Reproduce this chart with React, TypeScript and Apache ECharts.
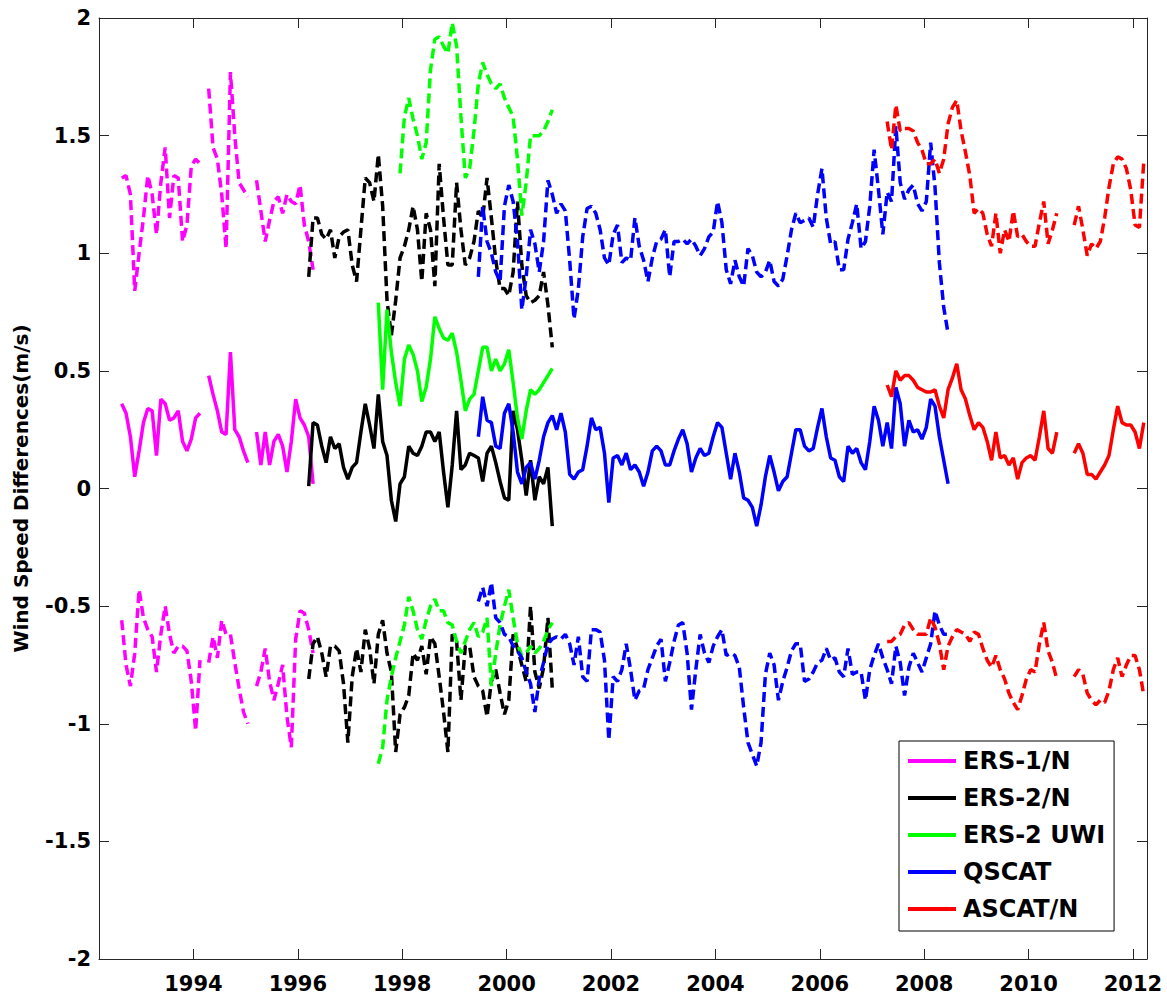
import React, { useEffect, useRef } from "react";
import * as echarts from "echarts";

const YEAR_TICKS = [1994, 1996, 1998, 2000, 2002, 2004, 2006, 2008, 2010, 2012];
const SATELLITES = ["ERS-1/N", "ERS-2/N", "ERS-2 UWI", "QSCAT", "ASCAT/N"];
const COLORS = ["#ff00ff", "#000000", "#00ff00", "#0000ff", "#ff0000"];
// first month (year, month) of each monthly record
const STARTS: [number, number][] = [[1992, 8], [1996, 3], [1997, 7], [1999, 6], [2007, 4]];

const ERS1_UP = [1.32, 1.33, 1.25, 0.84, 1.0, 1.15, 1.33, 1.25, 1.08, 1.3, 1.45, 1.15, 1.33, 1.32, 1.05, 1.12, 1.37, 1.4, 1.38, null, 1.7, 1.45, 1.4, 1.25, 1.02, 1.77, 1.5, 1.3, 1.27, 1.24, null, 1.31, 1.18, 1.05, 1.14, 1.22, 1.24, 1.17, 1.25, 1.22, 1.21, 1.29, 1.12, 1.05, 0.93];
const ERS1_MID = [0.36, 0.32, 0.22, 0.05, 0.16, 0.28, 0.34, 0.33, 0.14, 0.38, 0.36, 0.29, 0.3, 0.33, 0.2, 0.16, 0.21, 0.3, 0.32, null, 0.48, 0.4, 0.33, 0.24, 0.23, 0.58, 0.25, 0.22, 0.16, 0.11, null, 0.24, 0.1, 0.24, 0.1, 0.2, 0.23, 0.18, 0.07, 0.2, 0.38, 0.3, 0.27, 0.22, 0.02];
const ERS1_LOW = [-0.56, -0.75, -0.84, -0.7, -0.43, -0.55, -0.6, -0.63, -0.78, -0.62, -0.5, -0.62, -0.7, -0.67, -0.67, -0.69, -0.82, -1.03, -0.73, null, -0.74, -0.63, -0.72, -0.56, -0.62, -0.62, -0.74, -0.85, -0.95, -1.0, null, -0.84, -0.78, -0.68, -0.82, -0.9, -0.83, -0.75, -0.97, -1.1, -0.64, -0.52, -0.53, -0.6, -0.7];

const ERS2_UP = [0.9, 1.15, 1.15, 1.08, 1.06, 1.1, 0.98, 1.07, 1.09, 1.1, 0.95, 0.88, 1.1, 1.32, 1.3, 1.22, 1.42, 1.2, 0.8, 0.65, 0.8, 0.98, 1.03, 1.1, 1.2, 1.1, 0.88, 1.17, 1.1, 0.86, 1.38, 1.15, 0.95, 0.95, 1.3, 1.1, 0.95, 0.98, 1.05, 1.18, 1.15, 1.32, 1.15, 0.97, 0.85, 0.85, 0.82, 0.92, 1.22, 0.95, 0.82, 0.79, 0.8, 0.82, 0.92, 0.78, 0.6];
const ERS2_MID = [0.01, 0.28, 0.27, 0.18, 0.11, 0.22, 0.17, 0.19, 0.09, 0.04, 0.09, 0.11, 0.24, 0.36, 0.27, 0.17, 0.4, 0.2, 0.14, -0.05, -0.14, 0.02, 0.05, 0.18, 0.15, 0.14, 0.18, 0.24, 0.24, 0.2, 0.24, 0.07, -0.08, 0.1, 0.33, 0.08, 0.1, 0.15, 0.14, 0.13, 0.03, 0.15, 0.18, 0.11, 0.03, -0.04, -0.05, 0.33, 0.25, 0.12, -0.03, 0.12, -0.05, 0.05, 0.02, 0.09, -0.16];
const ERS2_LOW = [-0.81, -0.66, -0.63, -0.7, -0.8, -0.67, -0.67, -0.69, -0.83, -1.08, -0.8, -0.68, -0.78, -0.6, -0.68, -0.83, -0.62, -0.56, -0.7, -0.78, -1.12, -0.96, -0.93, -0.88, -0.7, -0.73, -0.67, -0.79, -0.63, -0.66, -0.8, -0.95, -1.12, -0.62, -0.65, -0.9, -0.67, -0.67, -0.8, -0.84, -0.86, -0.97, -0.82, -0.77, -0.87, -0.96, -0.9, -0.62, -0.68, -0.75, -0.82, -0.5, -0.78, -0.85, -0.76, -0.55, -0.85];

const UWI_UP = [null, null, null, null, null, 1.34, 1.58, 1.66, 1.57, 1.5, 1.4, 1.47, 1.78, 1.91, 1.92, 1.88, 1.85, 1.98, 1.88, 1.58, 1.32, 1.36, 1.52, 1.72, 1.81, 1.76, 1.72, 1.7, 1.72, 1.66, 1.62, 1.58, 1.4, 1.16, 1.3, 1.5, 1.5, 1.5, 1.52, 1.56, 1.61];
const UWI_MID = [0.79, 0.42, 0.76, 0.58, 0.45, 0.35, 0.55, 0.61, 0.57, 0.5, 0.37, 0.43, 0.55, 0.73, 0.68, 0.64, 0.63, 0.66, 0.58, 0.46, 0.33, 0.38, 0.4, 0.5, 0.6, 0.6, 0.5, 0.55, 0.5, 0.53, 0.59, 0.45, 0.3, 0.21, 0.33, 0.42, 0.4, 0.42, 0.45, 0.48, 0.51];
const UWI_LOW = [-1.17, -1.1, -0.9, -0.8, -0.72, -0.65, -0.58, -0.46, -0.52, -0.6, -0.64, -0.56, -0.5, -0.47, -0.52, -0.52, -0.57, -0.58, -0.65, -0.7, -0.65, -0.6, -0.57, -0.63, -0.61, -0.55, -0.84, -0.7, -0.58, -0.5, -0.43, -0.55, -0.66, -0.71, -0.7, -0.67, -0.7, -0.68, -0.65, -0.6, -0.57];

const QS_UP = [0.9, 1.2, 1.05, 1.0, 0.92, 0.88, 1.2, 1.29, 1.22, 1.05, 0.76, 0.9, 1.1, 1.04, 0.92, 1.05, 1.31, 1.25, 1.17, 1.21, 1.18, 0.97, 0.72, 0.85, 1.07, 1.19, 1.2, 1.17, 1.1, 0.98, 0.95, 1.08, 1.12, 0.96, 0.98, 0.97, 1.15, 1.03, 0.97, 0.88, 0.98, 1.05, 1.06, 1.1, 0.9, 1.05, 1.05, 1.06, 1.04, 1.06, 1.03, 0.99, 1.02, 1.07, 1.09, 1.22, 1.13, 0.93, 0.87, 0.97, 0.9, 0.86, 1.02, 0.99, 0.92, 0.9, 0.92, 0.97, 0.88, 0.86, 0.89, 0.99, 1.1, 1.17, 1.13, 1.14, 1.15, 1.11, 1.25, 1.36, 1.15, 1.04, 1.05, 0.93, 0.93, 1.06, 1.13, 1.21, 1.02, 1.05, 1.2, 1.44, 1.27, 1.08, 1.26, 1.22, 1.54, 1.3, 1.23, 1.27, 1.29, 1.21, 1.18, 1.22, 1.47, 1.28, 0.96, 0.77, 0.66];
const QS_MID = [0.22, 0.39, 0.29, 0.28, 0.18, 0.17, 0.32, 0.36, 0.24, 0.07, 0.02, 0.09, 0.11, 0.04, 0.12, 0.22, 0.28, 0.31, 0.25, 0.32, 0.24, 0.06, 0.04, 0.07, 0.08, 0.18, 0.3, 0.25, 0.26, 0.15, -0.06, 0.13, 0.14, 0.1, 0.15, 0.08, 0.1, 0.07, 0.01, 0.07, 0.16, 0.18, 0.16, 0.1, 0.1, 0.16, 0.21, 0.25, 0.19, 0.07, 0.13, 0.17, 0.14, 0.15, 0.22, 0.28, 0.26, 0.15, 0.04, 0.15, 0.07, -0.04, -0.05, -0.08, -0.16, -0.07, 0.05, 0.14, 0.07, -0.01, 0.03, 0.05, 0.15, 0.25, 0.25, 0.18, 0.16, 0.17, 0.26, 0.34, 0.22, 0.13, 0.12, 0.05, 0.03, 0.18, 0.15, 0.17, 0.11, 0.08, 0.2, 0.35, 0.29, 0.18, 0.28, 0.17, 0.43, 0.36, 0.18, 0.29, 0.24, 0.25, 0.21, 0.26, 0.38, 0.35, 0.22, 0.12, 0.02];
const QS_LOW = [-0.48, -0.42, -0.5, -0.4, -0.55, -0.57, -0.62, -0.63, -0.67, -0.69, -0.72, -0.78, -0.83, -0.95, -0.81, -0.74, -0.66, -0.64, -0.63, -0.64, -0.62, -0.66, -0.75, -0.63, -0.8, -0.82, -0.6, -0.6, -0.61, -0.73, -1.07, -0.8, -0.82, -0.77, -0.66, -0.77, -0.9, -0.86, -0.85, -0.77, -0.72, -0.67, -0.64, -0.82, -0.74, -0.65, -0.58, -0.57, -0.7, -0.94, -0.77, -0.62, -0.7, -0.74, -0.67, -0.63, -0.6, -0.71, -0.7, -0.71, -0.76, -0.93, -1.08, -1.13, -1.18, -1.08, -0.79, -0.7, -0.75, -0.9, -0.82, -0.76, -0.69, -0.66, -0.66, -0.82, -0.81, -0.78, -0.74, -0.73, -0.68, -0.73, -0.72, -0.78, -0.8, -0.68, -0.79, -0.78, -0.78, -0.9, -0.77, -0.71, -0.66, -0.72, -0.77, -0.83, -0.67, -0.74, -0.88, -0.76, -0.7, -0.74, -0.78, -0.72, -0.66, -0.52, -0.58, -0.62, -0.62];

const AS_UP = [1.56, 1.44, 1.63, 1.52, 1.53, 1.53, 1.52, 1.47, 1.44, 1.38, 1.38, 1.4, 1.34, 1.4, 1.55, 1.62, 1.65, 1.52, 1.43, 1.33, 1.17, 1.19, 1.17, 1.08, 1.03, 1.17, 1.0, 1.1, 1.05, 1.18, 1.07, 1.08, 1.05, 1.03, 1.03, 1.13, 1.22, 1.04, 1.1, 1.17, null, null, null, 1.12, 1.2, 1.1, 0.99, 1.04, 1.02, 1.05, 1.15, 1.28, 1.38, 1.41, 1.4, 1.36, 1.27, 1.12, 1.11, 1.39];
const AS_MID = [0.44, 0.39, 0.5, 0.46, 0.48, 0.48, 0.46, 0.43, 0.42, 0.41, 0.41, 0.42, 0.35, 0.3, 0.42, 0.47, 0.53, 0.42, 0.38, 0.31, 0.25, 0.28, 0.26, 0.2, 0.12, 0.24, 0.13, 0.14, 0.1, 0.13, 0.04, 0.11, 0.13, 0.14, 0.12, 0.22, 0.33, 0.17, 0.15, 0.24, null, null, null, 0.15, 0.19, 0.15, 0.06, 0.06, 0.04, 0.07, 0.1, 0.14, 0.25, 0.35, 0.28, 0.27, 0.27, 0.24, 0.17, 0.28];
const AS_LOW = [-0.65, -0.65, -0.63, -0.62, -0.58, -0.57, -0.6, -0.62, -0.62, -0.62, -0.55, -0.59, -0.66, -0.77, -0.67, -0.63, -0.6, -0.61, -0.62, -0.65, -0.61, -0.62, -0.68, -0.73, -0.76, -0.71, -0.77, -0.81, -0.87, -0.91, -0.94, -0.88, -0.81, -0.77, -0.78, -0.66, -0.57, -0.69, -0.74, -0.81, null, null, null, -0.8, -0.77, -0.79, -0.87, -0.9, -0.92, -0.9, -0.91, -0.86, -0.77, -0.72, -0.8, -0.75, -0.71, -0.71, -0.77, -0.88];

const SAT_DATA = [
  [ERS1_UP, ERS1_MID, ERS1_LOW],
  [ERS2_UP, ERS2_MID, ERS2_LOW],
  [UWI_UP, UWI_MID, UWI_LOW],
  [QS_UP, QS_MID, QS_LOW],
  [AS_UP, AS_MID, AS_LOW],
];

const FONT = "DejaVu Sans";

function toPairs(start: [number, number], vals: (number | null)[]) {
  const [y, m] = start;
  return vals.map((v, i) => [y + (m - 0.5 + i) / 12, v === null ? "-" : v]);
}

export default function App() {
  const ref = useRef<HTMLDivElement>(null);
  useEffect(() => {
    document.body.style.margin = "0";
    if (!ref.current) return;
    const chart = echarts.init(ref.current, undefined, { renderer: "svg" });
    const series: any[] = [];
    SAT_DATA.forEach((trio, s) => {
      trio.forEach((vals, t) => {
        const dashed = t !== 1;
        series.push({
          name: dashed ? SATELLITES[s] + (t === 0 ? " upper" : " lower") : SATELLITES[s],
          type: "line",
          data: toPairs(STARTS[s], vals),
          showSymbol: false,
          symbol: "none",
          connectNulls: false,
          color: COLORS[s],
          itemStyle: { color: COLORS[s] },
          lineStyle: { color: COLORS[s], width: 3.5, type: dashed ? [10, 5] : "solid", cap: "butt" },
          z: 2 + s,
          silent: true,
        });
      });
    });
    const axisLineStyle = { color: "#262626", width: 1 };
    chart.setOption({
      animation: false,
      backgroundColor: "#ffffff",
      grid: { left: 99, right: 20, top: 18, bottom: 41, containLabel: false },
      legend: {
        data: SATELLITES,
        orient: "vertical",
        left: 899,
        top: 741,
        icon: "rect",
        itemWidth: 48,
        itemHeight: 4,
        itemGap: 9,
        padding: [6, 9, 8, 9],
        borderColor: "#000",
        borderWidth: 1,
        backgroundColor: "#fff",
        selectedMode: false,
        textStyle: { fontFamily: FONT, fontWeight: "bold", fontSize: 24, color: "#000", lineHeight: 28, padding: [0, 0, 0, 2] },
      },
      xAxis: [
        {
          type: "value",
          min: 1992.19,
          max: 2012.27,
          position: "bottom",
          axisLine: { show: true, onZero: false, lineStyle: axisLineStyle },
          axisTick: { show: true, inside: true, length: 10, customValues: YEAR_TICKS, lineStyle: axisLineStyle },
          axisLabel: { show: true, customValues: YEAR_TICKS, margin: 14, color: "#000", fontFamily: FONT, fontWeight: "bold", fontSize: 21, formatter: (v: number) => String(v) },
          splitLine: { show: false },
        },
        {
          type: "value",
          min: 1992.19,
          max: 2012.27,
          position: "top",
          axisLine: { show: true, onZero: false, lineStyle: axisLineStyle },
          axisTick: { show: true, inside: true, length: 10, customValues: YEAR_TICKS, lineStyle: axisLineStyle },
          axisLabel: { show: false },
          splitLine: { show: false },
        },
      ],
      yAxis: [
        {
          type: "value",
          min: -2,
          max: 2,
          interval: 0.5,
          position: "left",
          name: "Wind Speed Differences(m/s)",
          nameLocation: "middle",
          nameGap: 68,
          nameTextStyle: { fontFamily: FONT, fontWeight: "bold", fontSize: 20, color: "#000" },
          axisLine: { show: true, onZero: false, lineStyle: axisLineStyle },
          axisTick: { show: true, inside: true, length: 10, lineStyle: axisLineStyle },
          axisLabel: { margin: 8, color: "#000", fontFamily: FONT, fontWeight: "bold", fontSize: 21 },
          splitLine: { show: false },
        },
        {
          type: "value",
          min: -2,
          max: 2,
          interval: 0.5,
          position: "right",
          axisLine: { show: true, onZero: false, lineStyle: axisLineStyle },
          axisTick: { show: true, inside: true, length: 10, lineStyle: axisLineStyle },
          axisLabel: { show: false },
          splitLine: { show: false },
        },
      ],
      series,
    });
    return () => chart.dispose();
  }, []);
  return <div ref={ref} style={{ width: 1167, height: 1000 }} />;
}
